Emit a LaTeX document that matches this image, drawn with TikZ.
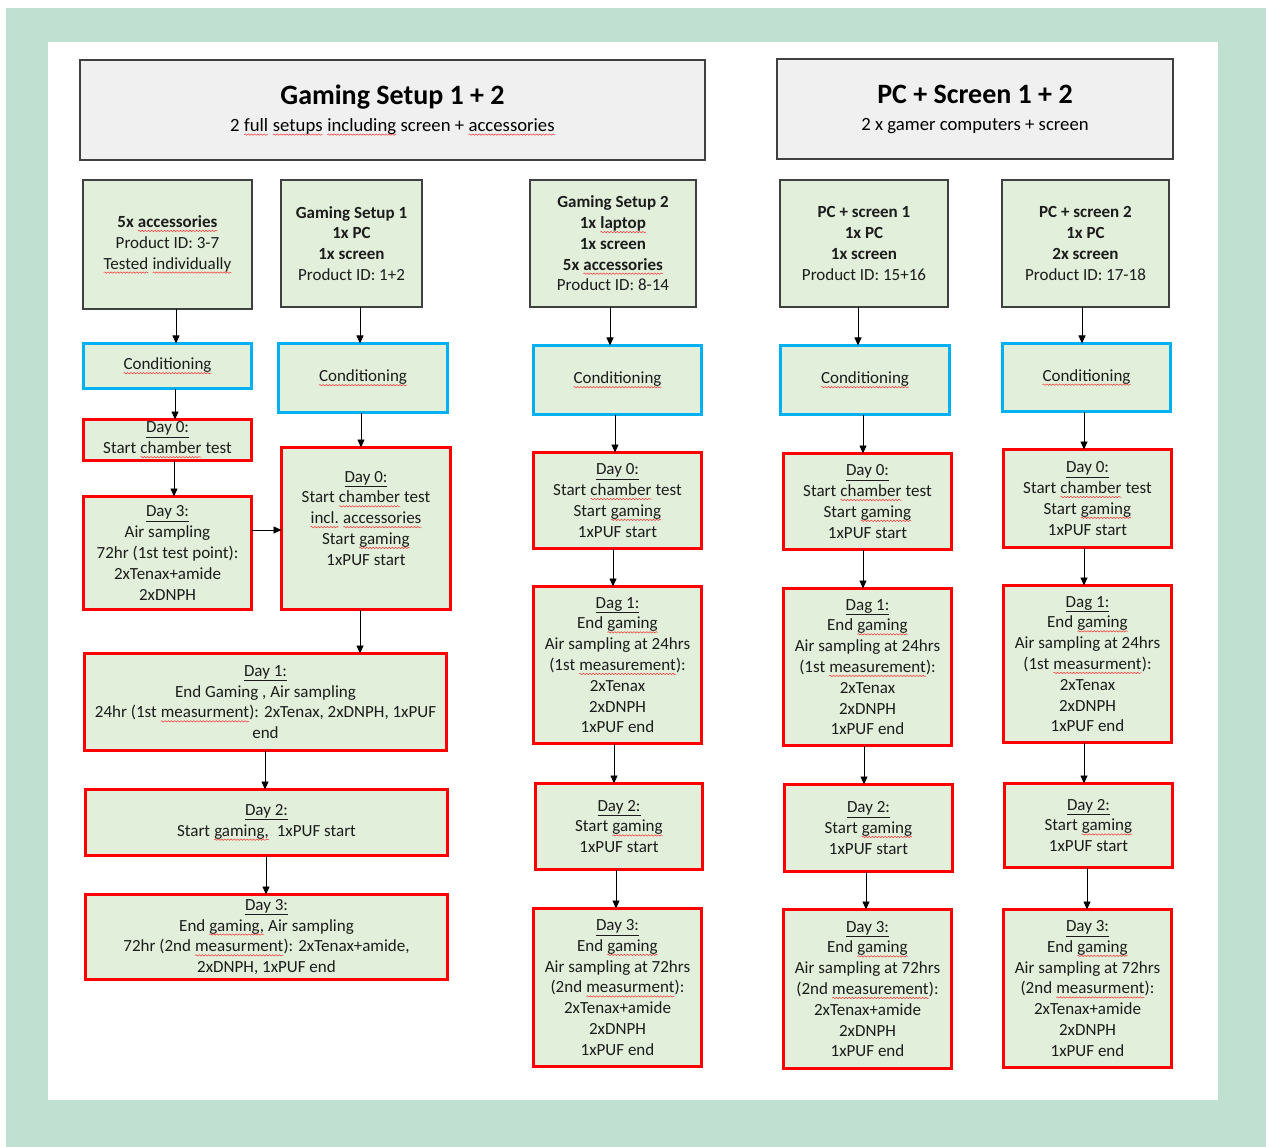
\documentclass[tikz,border=0pt]{standalone}
\usepackage{fontspec}
\setmainfont{Carlito}
\usetikzlibrary{arrows.meta,decorations.pathmorphing}
\definecolor{bggreen}{HTML}{C0E1D2}
\definecolor{boxfill}{HTML}{E2EFDA}
\definecolor{titlefill}{HTML}{F0F0F0}
\definecolor{redb}{HTML}{FF0000}
\definecolor{blueb}{HTML}{00B0F0}
\definecolor{grayb}{HTML}{404040}
\definecolor{txt}{HTML}{1C1C1C}

\newcommand\sq[1]{\tikz[baseline=(w.base)]{\node[draw=none,fill=none,inner sep=0pt,outer sep=0pt,minimum width=0pt,minimum height=0pt](w){#1};\draw[red!80,line width=0.5pt,decorate,decoration={snake,amplitude=0.7pt,segment length=3.2pt}]([yshift=-3.5pt]w.base west)--([yshift=-3.5pt]w.base east);}}

\newcommand\mybox[7]{\node[#6,minimum width={(#4)-(#2)},minimum height={(#5)-(#3)}] (#1) at ({((#2)+(#4))/2},{((#3)+(#5))/2}) {#7};}
\newcommand\varrow[3]{\path (#3,0) coordinate (ax); \draw[arr] (#1.south -| ax) -- (#2.north -| ax);}

\tikzset{
  basebox/.style={align=center, text=txt, font=\fontsize{17}{20.8}\selectfont, inner sep=0pt, outer sep=0pt, fill=boxfill},
  graybox/.style={basebox, draw=grayb, line width=1.3pt},
  bluebox/.style={basebox, draw=blueb, line width=3pt},
  redbox/.style={basebox, draw=redb, line width=3pt},
  titlebox/.style={align=center, fill=titlefill, draw=grayb, line width=1.2pt, inner sep=0pt, outer sep=0pt, text=black, font=\fontsize{18.7}{27}\selectfont},
  arr/.style={draw=black, line width=0.8pt, -{Triangle[length=8pt,width=7pt]}}
}

\begin{document}
\begin{tikzpicture}[x=1pt,y=-1pt]
\useasboundingbox (0,0) rectangle (1266,1147);
\fill[white] (0,0) rectangle (1266,1147);
\fill[bggreen] (6,8) rectangle (1266,1147);
\fill[white] (48,42) rectangle (1218,1100);

% titles
\mybox{T1}{80}{60}{705}{160}{titlebox}{{\fontsize{28}{27}\selectfont\bfseries Gaming Setup 1 + 2}\\ 2 \sq{full} \sq{setups} \sq{including} screen + \sq{accessories}}
\mybox{T2}{777}{59}{1173}{159}{titlebox}{{\fontsize{28}{27}\selectfont\bfseries PC + Screen 1 + 2}\\ 2 x gamer computers + screen}

% column A
\mybox{A0}{83}{180}{252}{309}{graybox}{\textbf{5x \sq{accessories}}\\ Product ID: 3-7\\ \sq{Tested} \sq{individually}}
\mybox{Acond}{83.5}{343.5}{251.5}{388.5}{bluebox}{\sq{Conditioning}}
\mybox{Aday0}{83.5}{419.5}{251.5}{460.5}{redbox}{\underline{Day 0:}\\ Start \sq{chamber} test}
\mybox{Aday3}{83.5}{496.5}{251.5}{609.5}{redbox}{\underline{Day 3:}\\ Air sampling\\ 72hr (1st test point):\\ 2xTenax+amide\\ 2xDNPH}

% column B
\mybox{B0}{281}{180}{422}{307}{graybox}{\textbf{Gaming Setup 1}\\ \textbf{1x PC}\\ \textbf{1x screen}\\ Product ID: 1+2}
\mybox{Bcond}{278.5}{343.5}{447.5}{412.5}{bluebox}{\sq{Conditioning}}
\mybox{Bday0}{281.5}{447.5}{450.5}{609.5}{redbox}{\underline{Day 0:}\\ Start \sq{chamber} test\\ \sq{incl.} \sq{accessories}\\ Start \sq{gaming}\\ 1xPUF start\\ \mbox{}}
\mybox{Wday1}{84.5}{653.5}{446.5}{750.5}{redbox}{\underline{Day 1:}\\ End Gaming , Air sampling\\ 24hr (1st \sq{measurment}): 2xTenax, 2xDNPH, 1xPUF\\ end}
\mybox{Wday2}{85.5}{789.5}{447.5}{855.5}{redbox}{\underline{Day 2:}\\ Start \sq{gaming,}\ \ 1xPUF start}
\mybox{Wday3}{85.5}{894.5}{447.5}{979.5}{redbox}{\underline{Day 3:}\\ End \sq{gaming,} Air sampling\\ 72hr (2nd \sq{measurment}): 2xTenax+amide,\\ 2xDNPH, 1xPUF end}

% column C
\mybox{C0}{530}{180}{696}{307}{graybox}{\textbf{Gaming Setup 2}\\ \textbf{1x \sq{laptop}}\\ \textbf{1x screen}\\ \textbf{5x \sq{accessories}}\\ Product ID: 8-14}
\mybox{Ccond}{533.5}{345.5}{701.5}{414.5}{bluebox}{\sq{Conditioning}}
\mybox{Cday0}{533.5}{452.5}{701.5}{548.5}{redbox}{\underline{Day 0:}\\ Start \sq{chamber} test\\ Start \sq{gaming}\\ 1xPUF start}
\mybox{Cday1}{533.5}{586.5}{701.5}{743.5}{redbox}{\underline{Dag 1:}\\ End \sq{gaming}\\ Air sampling at 24hrs\\ (1st \sq{measurement}):\\ 2xTenax\\ 2xDNPH\\ 1xPUF end}
\mybox{Cday2}{535.5}{783.5}{702.5}{869.5}{redbox}{\underline{Day 2:}\\ Start \sq{gaming}\\ 1xPUF start}
\mybox{Cday3}{533.5}{908.5}{701.5}{1066.5}{redbox}{\underline{Day 3:}\\ End \sq{gaming}\\ Air sampling at 72hrs\\ (2nd \sq{measurment}):\\ 2xTenax+amide\\ 2xDNPH\\ 1xPUF end}

% column D
\mybox{D0}{780}{180}{948}{307}{graybox}{\textbf{PC + screen 1}\\ \textbf{1x PC}\\ \textbf{1x screen}\\ Product ID: 15+16}
\mybox{Dcond}{780.5}{345.5}{949.5}{414.5}{bluebox}{\sq{Conditioning}}
\mybox{Dday0}{783.5}{453.5}{951.5}{549.5}{redbox}{\underline{Day 0:}\\ Start \sq{chamber} test\\ Start \sq{gaming}\\ 1xPUF start}
\mybox{Dday1}{783.5}{588.5}{951.5}{745.5}{redbox}{\underline{Dag 1:}\\ End \sq{gaming}\\ Air sampling at 24hrs\\ (1st \sq{measurement}):\\ 2xTenax\\ 2xDNPH\\ 1xPUF end}
\mybox{Dday2}{784.5}{784.5}{952.5}{871.5}{redbox}{\underline{Day 2:}\\ Start \sq{gaming}\\ 1xPUF start}
\mybox{Dday3}{783.5}{909.5}{951.5}{1068.5}{redbox}{\underline{Day 3:}\\ End \sq{gaming}\\ Air sampling at 72hrs\\ (2nd \sq{measurement}):\\ 2xTenax+amide\\ 2xDNPH\\ 1xPUF end}

% column E
\mybox{E0}{1002}{180}{1169}{307}{graybox}{\textbf{PC + screen 2}\\ \textbf{1x PC}\\ \textbf{2x screen}\\ Product ID: 17-18}
\mybox{Econd}{1002.5}{343.5}{1170.5}{411.5}{bluebox}{\sq{Conditioning}}
\mybox{Eday0}{1003.5}{449.5}{1171.5}{547.5}{redbox}{\underline{Day 0:}\\ Start \sq{chamber} test\\ Start \sq{gaming}\\ 1xPUF start}
\mybox{Eday1}{1003.5}{585.5}{1171.5}{742.5}{redbox}{\underline{Dag 1:}\\ End \sq{gaming}\\ Air sampling at 24hrs\\ (1st \sq{measurment}):\\ 2xTenax\\ 2xDNPH\\ 1xPUF end}
\mybox{Eday2}{1004.5}{783.5}{1172.5}{867.5}{redbox}{\underline{Day 2:}\\ Start \sq{gaming}\\ 1xPUF start}
\mybox{Eday3}{1003.5}{909.5}{1171.5}{1067.5}{redbox}{\underline{Day 3:}\\ End \sq{gaming}\\ Air sampling at 72hrs\\ (2nd \sq{measurment}):\\ 2xTenax+amide\\ 2xDNPH\\ 1xPUF end}

% arrows
\varrow{A0}{Acond}{176}
\varrow{Acond}{Aday0}{175}
\varrow{Aday0}{Aday3}{174}
\path (0,530) coordinate (ay);
\draw[arr] (Aday3.east |- ay) -- (Bday0.west |- ay);
\varrow{B0}{Bcond}{360}
\varrow{Bcond}{Bday0}{361}
\varrow{Bday0}{Wday1}{360}
\varrow{Wday1}{Wday2}{265}
\varrow{Wday2}{Wday3}{266}
\varrow{C0}{Ccond}{610}
\varrow{Ccond}{Cday0}{615}
\varrow{Cday0}{Cday1}{613}
\varrow{Cday1}{Cday2}{614}
\varrow{Cday2}{Cday3}{616}
\varrow{D0}{Dcond}{858}
\varrow{Dcond}{Dday0}{863}
\varrow{Dday0}{Dday1}{863}
\varrow{Dday1}{Dday2}{864}
\varrow{Dday2}{Dday3}{866}
\varrow{E0}{Econd}{1082}
\varrow{Econd}{Eday0}{1084}
\varrow{Eday0}{Eday1}{1084}
\varrow{Eday1}{Eday2}{1084}
\varrow{Eday2}{Eday3}{1087}
\end{tikzpicture}
\end{document}
